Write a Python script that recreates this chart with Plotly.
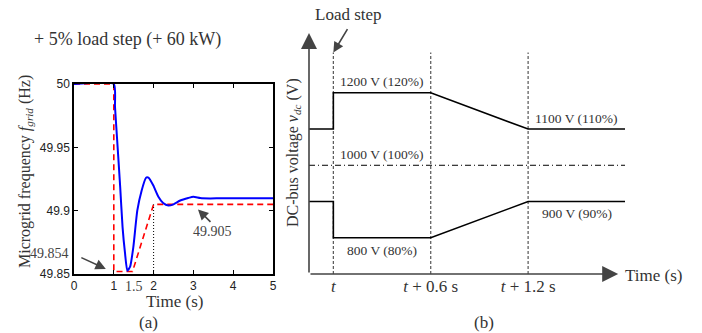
import plotly.graph_objects as go

W, H = 702, 333
SERIF = "Liberation Serif"
SANS = "Liberation Sans"

# ---------------- panel (a) data ----------------
time_a = [0, 1.0, 1.03, 1.09, 1.16, 1.22, 1.28, 1.34, 1.41, 1.49, 1.59, 1.70,
          1.81, 1.87, 1.99, 2.12, 2.24, 2.37, 2.5, 2.67, 2.87, 3.0, 3.17,
          3.42, 3.67, 4.0, 4.5, 5.0]
freq_a = [50, 50, 49.982, 49.953, 49.919, 49.887, 49.867, 49.8526, 49.8558,
          49.871, 49.900, 49.916, 49.926, 49.926, 49.920, 49.911, 49.906,
          49.904, 49.905, 49.908, 49.910, 49.911, 49.910, 49.9097, 49.9098,
          49.9098, 49.9098, 49.9098]
ref_time = [0, 1.0, 1.0, 1.47, 2.0, 5.0]
ref_freq = [50, 50, 49.852, 49.852, 49.905, 49.905]
marker_time = [2.0, 2.0]
marker_freq = [49.85, 49.905]
xticks_a = [0, 1, 2, 3, 4, 5]
yticks_a = [49.85, 49.9, 49.95, 50]
yticks_a_text = ["49.85", "49.9", "49.95", "50"]

# ---------------- panel (b) data ----------------
time_b = [-0.15, 0, 0, 0.6, 1.2, 1.8]
upper_v = [1100, 1100, 1200, 1200, 1100, 1100]
lower_v = [900, 900, 800, 800, 900, 900]
nominal_t = [-0.15, 1.8]
nominal_v = [1000, 1000]
event_t = [0, 0.6, 1.2]
event_top = 1311
xticks_b_text = ["<i>t</i>", "<i>t</i> + 0.6 s", "<i>t</i> + 1.2 s"]
labels_b = [(0.3, 1200, "1200 V (120%)", 11), (0.3, 1000, "1000 V (100%)", 11),
            (0.3, 800, "800 V (80%)", -13), (1.5, 1100, "1100 V (110%)", 11),
            (1.5, 900, "900 V (90%)", -12)]


def px(x):
    return x / W


def py(y):
    return 1 - y / H


def label(x, y, text, size=17, color="#333", xanchor="center", angle=0):
    return dict(x=px(x), y=py(y), xref="paper", yref="paper", showarrow=False,
                xanchor=xanchor, yanchor="middle", textangle=angle, text=text,
                font=dict(family=SERIF, size=size, color=color))


fig = go.Figure()
fig.add_trace(go.Scatter(x=ref_time, y=ref_freq, mode="lines",
                         line=dict(color="#ff0000", width=1.6, dash="6px,4px"),
                         xaxis="x", yaxis="y"))
fig.add_trace(go.Scatter(x=time_a, y=freq_a, mode="lines",
                         line=dict(color="#0000ff", width=2, shape="spline", smoothing=0.5),
                         xaxis="x", yaxis="y"))
fig.add_trace(go.Scatter(x=marker_time, y=marker_freq, mode="lines",
                         line=dict(color="black", width=1, dash="1px,2px"),
                         xaxis="x", yaxis="y"))

# panel (b)
for t in event_t:
    fig.add_trace(go.Scatter(x=[t, t], y=[700, event_top], mode="lines",
                             line=dict(color="#555555", width=1.2, dash="3px,2px"),
                             xaxis="x2", yaxis="y2"))
fig.add_trace(go.Scatter(x=nominal_t, y=nominal_v, mode="lines",
                         line=dict(color="black", width=1, dash="6px,3px,1px,3px"),
                         xaxis="x2", yaxis="y2"))
fig.add_trace(go.Scatter(x=time_b, y=upper_v, mode="lines",
                         line=dict(color="black", width=1.6), xaxis="x2", yaxis="y2"))
fig.add_trace(go.Scatter(x=time_b, y=lower_v, mode="lines",
                         line=dict(color="black", width=1.6), xaxis="x2", yaxis="y2"))

ann = []
# (a) annotations
ann.append(dict(x=1.03, y=50.006, xref="x", yref="y", ax=12, ay=-25,
                showarrow=True, arrowhead=2, arrowsize=1.3, arrowwidth=1.6, text=""))
ann.append(label(127, 39, "+ 5% load step (+ 60 kW)", size=18))
ann.append(dict(x=0.80, y=49.854, xref="x", yref="y", ax=-26, ay=-12,
                showarrow=True, arrowhead=2, arrowsize=1.3, arrowwidth=1.6, text=""))
ann.append(label(70.5, 253, "49.854", size=14, color="#444", xanchor="right"))
ann.append(dict(x=3.115, y=49.901, xref="x", yref="y", ax=14, ay=14,
                showarrow=True, arrowhead=2, arrowsize=1.3, arrowwidth=1.6, text=""))
ann.append(label(212, 232, "49.905", size=14, color="#444"))
ann.append(dict(x=1.5, y=py(286), xref="x", yref="paper", showarrow=False,
                xanchor="center", yanchor="middle",
                text="1.5", font=dict(family=SERIF, size=14, color="#444")))
ann.append(label(174, 301, "Time (s)"))
ann.append(label(148, 322, "(a)"))
ann.append(label(25, 172, "Microgrid frequency <i>f</i><sub><i>grid</i></sub> (Hz)",
                 size=16, angle=-90))

# (b) annotations
ann.append(dict(x=-0.15, y=1365, xref="x2", yref="y2", ax=-0.15, ay=700,
                axref="x2", ayref="y2", showarrow=True, arrowhead=2, arrowsize=2,
                arrowwidth=1.6, text=""))
ann.append(dict(x=1.755, y=700, xref="x2", yref="y2", ax=-0.15, ay=700,
                axref="x2", ayref="y2", showarrow=True, arrowhead=2, arrowsize=2,
                arrowwidth=1.6, text=""))
ann.append(dict(x=0, y=event_top, xref="x2", yref="y2", ax=15, ay=-25,
                showarrow=True, arrowhead=2, arrowsize=1.3, arrowwidth=1.6, text=""))
ann.append(label(348, 15, "Load step"))
ann.append(label(623, 275, "Time (s)", xanchor="left"))
ann.append(label(484, 322, "(b)"))
ann.append(label(293, 153, "DC-bus voltage <i>v</i><sub><i>dc</i></sub> (V)",
                 size=16, angle=-90))
for (lx, ly, lt, off) in labels_b:
    ann.append(dict(x=lx, y=ly, xref="x2", yref="y2", showarrow=False, yshift=off,
                    xanchor="center", yanchor="middle",
                    text=lt, font=dict(family=SERIF, size=13.5, color="#333")))

fig.update_layout(
    template="none",
    width=W, height=H, margin=dict(l=0, r=0, t=0, b=0, autoexpand=False),
    paper_bgcolor="white", plot_bgcolor="white", showlegend=False,
    annotations=ann,
    xaxis=dict(domain=[px(74), px(273)], range=[0, 5], tickvals=xticks_a,
               ticks="inside", ticklen=4, tickcolor="black", showgrid=False, zeroline=False,
               showline=True, linecolor="black", linewidth=1.5, mirror="ticks",
               automargin=False,
               tickfont=dict(family=SANS, size=12, color="#222")),
    yaxis=dict(domain=[py(274), py(84)], range=[49.85, 50], tickvals=yticks_a,
               ticktext=yticks_a_text, ticks="inside", ticklen=4, tickcolor="black",
               showgrid=False, zeroline=False, showline=True, linecolor="black",
               linewidth=1.5, mirror="ticks", automargin=False,
               tickfont=dict(family=SANS, size=12, color="#222")),
    xaxis2=dict(domain=[px(309), px(625)], range=[-0.15, 1.797], tickvals=event_t,
                ticktext=xticks_b_text, ticks="", showgrid=False, zeroline=False,
                showline=False, anchor="y2", automargin=False,
                tickfont=dict(family=SERIF, size=17, color="#333")),
    yaxis2=dict(domain=[py(274), py(33)], range=[700, 1365], showticklabels=False,
                ticks="", showgrid=False, zeroline=False, showline=False, anchor="x2",
                automargin=False),
)

fig.write_html("out.html", config={"displayModeBar": False},
               post_script="document.body.style.margin='0';document.body.style.overflow='hidden';")
